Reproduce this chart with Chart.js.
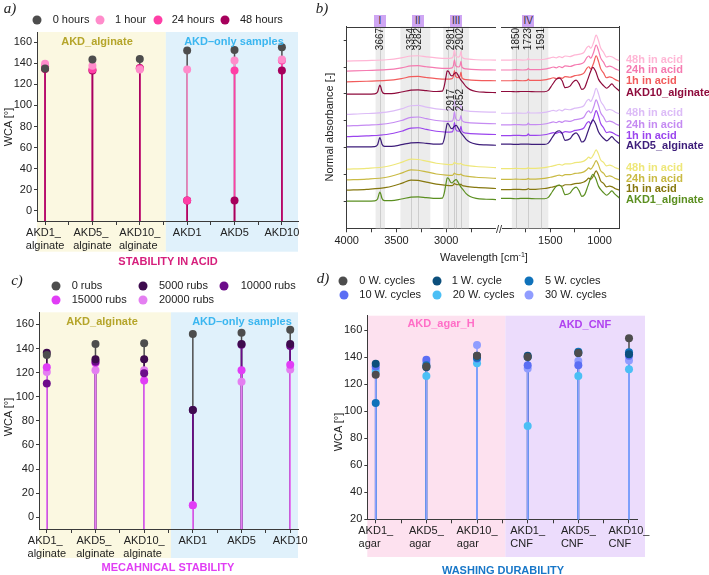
<!DOCTYPE html>
<html>
<head>
<meta charset="utf-8">
<script src="https://cdn.jsdelivr.net/npm/chart.js@4.4.1/dist/chart.umd.min.js"></script>
<style>
  html, body { margin: 0; padding: 0; background: #fff; }
  #page { position: relative; width: 709px; height: 575px; overflow: hidden;
          font-family: "Liberation Sans", Arial, sans-serif; color: #222; }
  #page canvas { position: absolute; }
  .t { position: absolute; white-space: nowrap; font-size: 11px; line-height: 1; }
  .c { transform: translate(-50%, -50%); }
  .rot { transform: translate(-50%, -50%) rotate(-90deg); }
  .b { font-weight: bold; }
  .letter { font-family: "Liberation Serif", "Times New Roman", serif; font-style: italic; font-size: 15px; }
  .dot { position: absolute; width: 9px; height: 9px; border-radius: 50%; transform: translate(-50%, -50%); }
  .box { position: absolute; width: 12px; height: 12px; background: #cfa6f3; font-size: 10px;
         line-height: 12px; text-align: center; transform: translate(-50%, -50%); color: #333; }
</style>
</head>
<body>
<div id="page">
  <canvas id="chartA" width="320" height="260" style="left:0;top:0"></canvas>
  <canvas id="specL" width="240" height="260" style="left:260px;top:0"></canvas>
  <canvas id="specR" width="209" height="260" style="left:500px;top:0"></canvas>
  <canvas id="chartC" width="320" height="295" style="left:0;top:280px"></canvas>
  <canvas id="chartD" width="370" height="295" style="left:300px;top:280px"></canvas>
</div>
<script>
// ---------- data ----------
// a) stability in acid
const acidCats = [['AKD1_ ', 'alginate'], ['AKD5_ ', 'alginate'], ['AKD10_', 'alginate '], 'AKD1', 'AKD5', 'AKD10'];
const acidNames = ['0 hours', '1 hour', '24 hours', '48 hours'];
const acid0h  = [135, 143.5, 144, 152, 152.5, 155];
const acid1h  = [139.5, 137.5, 134, 134, 142.5, 143.5];
const acid24h = [137, 134, 135, 10, 133, 142.5];
const acid48h = [134.5, 133, 135.5, 10, 10, 133];

// c) mechanical stability
const rubNames = ['0 rubs', '5000 rubs', '10000 rubs', '15000 rubs', '20000 rubs'];
const rubs0     = [134.5, 143.7, 144.3, 152, 153, 155.5];
const rubs5000  = [136.5, 131, 131, 89, 143.7, 143.7];
const rubs10000 = [111, 129, 119.5, 89, 143, 142];
const rubs15000 = [124.5, 128, 113.5, 10, 122, 126.5];
const rubs20000 = [120.5, 122, 122, 10, 112.5, 122.5];

// d) washing durability
const washCats = [['AKD1_', 'agar    '], ['AKD5_', 'agar    '], ['AKD10_', 'agar      '],
                  ['AKD1_', 'CNF    '], ['AKD5_', 'CNF    '], ['AKD10_', 'CNF      ']];
const washNames = ['0 W. cycles', '1 W. cycle', '5 W. cycles', '10 W. cycles', '20 W. cycles', '30 W. cycles'];
const wash0  = [127, 133, 141, 140, 143, 154];
const wash1  = [135, 132.5, 141, 141, 143, 142];
const wash5  = [106, 134, 139.5, 140, 144, 143.5];
const wash10 = [133, 138, 139, 134, 134, 141];
const wash20 = [129, 126, 135.5, 89, 126, 131];
const wash30 = [131, 136, 149, 131.5, 137, 137.5];

// b) FTIR spectra (wavenumber / absorbance above each trace's offset)
const algLeftWn  = [4000, 3800, 3720, 3690, 3675, 3667, 3658, 3645, 3620, 3550, 3450, 3354, 3282, 3200, 3100, 3040,
                    3020, 3000, 2990, 2975, 2955, 2940, 2920, 2900, 2880, 2852, 2830, 2800, 2760, 2700, 2600, 2500];
const algLeftAbs = [0, 0, 0.01, 0.08, 0.27, 0.34, 0.27, 0.1, 0.02, 0.02, 0.08, 0.15, 0.16, 0.13, 0.1, 0.11,
                    0.3, 0.7, 0.87, 0.84, 0.7, 0.68, 0.76, 0.8, 0.7, 0.52, 0.42, 0.28, 0.17, 0.1, 0.07, 0.06];
const acidLeftWn    = [4000, 3800, 3600, 3450, 3354, 3282, 3200, 3100, 3000, 2940, 2928, 2917, 2906, 2880, 2862, 2852, 2842, 2800, 2700, 2500];
const acid10LeftAbs = [0, 0.02, 0.05, 0.12, 0.19, 0.2, 0.16, 0.12, 0.1, 0.12, 0.2, 0.42, 0.2, 0.15, 0.2, 0.36, 0.15, 0.08, 0.05, 0.04];
const acid5LeftAbs  = [0, 0.03, 0.08, 0.2, 0.32, 0.33, 0.27, 0.2, 0.17, 0.18, 0.27, 0.52, 0.28, 0.2, 0.24, 0.38, 0.2, 0.13, 0.1, 0.08];
const acid1LeftAbs  = [0, 0.03, 0.1, 0.25, 0.37, 0.36, 0.3, 0.22, 0.18, 0.17, 0.2, 0.25, 0.22, 0.2, 0.2, 0.22, 0.18, 0.14, 0.1, 0.06];
const algRightWn  = [2000, 1900, 1850, 1800, 1723, 1650, 1560, 1520, 1480, 1440, 1407, 1380, 1350, 1300, 1270, 1238,
                     1210, 1180, 1150, 1120, 1090, 1068, 1040, 1010, 977, 950, 926, 900, 875, 850, 800];
const algRightAbs = [0.1, 0.1, 0.09, 0.1, 0.1, 0.09, 0.09, 0.14, 0.35, 0.55, 0.6, 0.5, 0.24, 0.3, 0.45, 0.52,
                     0.4, 0.18, 0.25, 0.55, 0.85, 1.0, 0.85, 0.55, 0.38, 0.28, 0.22, 0.3, 0.38, 0.28, 0.12];
const acidRightWn   = [2000, 1900, 1850, 1780, 1735, 1723, 1710, 1650, 1560, 1500, 1470, 1440, 1410, 1380, 1350, 1300,
                       1250, 1200, 1160, 1130, 1110, 1090, 1060, 1035, 1010, 990, 960, 930, 900, 870, 840, 800];
const acidRightAbs  = [0.04, 0.04, 0.05, 0.04, 0.05, 0.1, 0.05, 0.05, 0.07, 0.12, 0.15, 0.12, 0.17, 0.13, 0.19, 0.17,
                       0.23, 0.26, 0.32, 0.5, 0.56, 0.48, 0.7, 0.97, 0.75, 0.5, 0.33, 0.15, 0.18, 0.15, 0.08, 0.02];
const acid1RightAbs = [0.02, 0.02, 0.03, 0.02, 0.03, 0.06, 0.03, 0.03, 0.06, 0.1, 0.12, 0.15, 0.18, 0.15, 0.2, 0.2,
                       0.24, 0.26, 0.3, 0.38, 0.45, 0.4, 0.55, 0.72, 0.55, 0.35, 0.25, 0.12, 0.15, 0.12, 0.05, 0.01];

const specNames   = ['48h in acid', '24h in acid', '1h in acid', 'AKD10_alginate',
                     '48h in acid', '24h in acid', '1h in acid', 'AKD5_alginate',
                     '48h in acid', '24h in acid', '1h in acid', 'AKD1_alginate'];
const specOffsets = [6.22, 5.85, 5.45, 4.99, 4.24, 3.81, 3.41, 3.03, 2.20, 1.80, 1.42, 1.01];
const specShape   = ['acid10', 'acid10', 'acid10', 'alg', 'acid5', 'acid5', 'acid5', 'alg', 'acid1', 'acid1', 'acid1', 'alg'];
const bandsLeft   = [[3710, 3615], [3460, 3160], [3030, 2770]];
const bandsRight  = [[1890, 1520]];
const peakLinesLeft  = [3667, 3354, 3282, 2981, 2917, 2902, 2852];
const peakLinesRight = [1850, 1723, 1591];
const peakLabelsTop  = [3667, 3354, 3282, 2981, 2902, 1850, 1723, 1591];
const peakLabelsMid  = [2917, 2852];
const regionNames    = ['I', 'II', 'III', 'IV'];
const regionCentres  = [3667, 3285, 2900, 1723];

// ---------- styles ----------
const FONT = '"Liberation Sans", Arial, sans-serif';
Chart.defaults.font.family = FONT;
Chart.defaults.font.size = 11;
Chart.defaults.color = '#222';
const AXIS = '#3a3a3a';
const acidColors = ['#4d4d4d', '#ff8ccb', '#ff3fa6', '#a6005c'];
const rubColors  = ['#4d4d4d', '#3e0b4e', '#6c0c8a', '#e13df6', '#e47ff1'];
const washColors = ['#4d4d4d', '#0c4f7c', '#0f72ba', '#5b6ef4', '#4bbff5', '#909dff'];
const specColors = ['#ffb6d5', '#f57ab0', '#f25c5c', '#8e0b3c',
                    '#dcbcf7', '#c58bf2', '#9b45ee', '#3d1d7a',
                    '#eee779', '#c9ba43', '#86780f', '#5b8f20'];

const page = document.getElementById('page');
function addText(html, x, y, cls, style) {
  const d = document.createElement('div');
  d.className = 't ' + (cls || '');
  d.innerHTML = html;
  d.style.left = x + 'px';
  d.style.top = y + 'px';
  Object.assign(d.style, style || {});
  page.appendChild(d);
  return d;
}
function legend(names, colors, spots) {
  names.forEach((n, i) => {
    const [dx, tx, y] = spots[i];
    const dot = document.createElement('div');
    dot.className = 'dot';
    dot.style.left = dx + 'px';
    dot.style.top = y + 'px';
    dot.style.background = colors[i];
    page.appendChild(dot);
    addText(n, tx, y - 6);
  });
}

// ---------- plugins ----------
function regionsPlugin(list, extra) {
  return {
    id: 'regions',
    beforeDraw(chart) {
      const { ctx, chartArea: a, scales: { x } } = chart;
      ctx.save();
      list.forEach(r => {
        const x0 = x.getPixelForValue(r.from), x1 = x.getPixelForValue(r.to);
        ctx.fillStyle = r.color;
        ctx.fillRect(x0, a.top, x1 - x0, a.bottom - a.top + extra);
      });
      ctx.restore();
    }
  };
}
const dropLines = {
  id: 'dropLines',
  beforeDatasetsDraw(chart) {
    const { ctx, chartArea } = chart;
    ctx.save();
    ctx.lineWidth = 1.5;
    chart.data.datasets.forEach((ds, i) => {
      ctx.strokeStyle = ds.borderColor;
      chart.getDatasetMeta(i).data.forEach(pt => {
        ctx.beginPath();
        ctx.moveTo(pt.x, pt.y);
        ctx.lineTo(pt.x, chartArea.bottom);
        ctx.stroke();
      });
    });
    ctx.restore();
  }
};
function bandsPlugin(bands, lines, frameRight) {
  return {
    id: 'bands',
    beforeDatasetsDraw(chart) {
      const { ctx, chartArea: a, scales: { x } } = chart;
      ctx.save();
      ctx.fillStyle = '#ececec';
      bands.forEach(([w0, w1]) => {
        const p0 = x.getPixelForValue(w0), p1 = x.getPixelForValue(w1);
        ctx.fillRect(p0, a.top, p1 - p0, a.bottom - a.top);
      });
      ctx.strokeStyle = '#cdcdcd';
      ctx.lineWidth = 1;
      lines.forEach(w => {
        const p = Math.round(x.getPixelForValue(w)) + 0.5;
        ctx.beginPath(); ctx.moveTo(p, a.top); ctx.lineTo(p, a.bottom); ctx.stroke();
      });
      ctx.restore();
    },
    afterDraw(chart) {
      const { ctx, chartArea: a } = chart;
      ctx.save();
      ctx.strokeStyle = AXIS;
      ctx.lineWidth = 1;
      ctx.beginPath();
      ctx.moveTo(a.left, Math.round(a.top) + 0.5);
      ctx.lineTo(a.right + (frameRight ? 0.5 : 0), Math.round(a.top) + 0.5);
      ctx.stroke();
      ctx.restore();
    }
  };
}

// ---------- WCA charts ----------
function wcaChart(id, cats, series, colors, cfg) {
  const datasets = series.map((vals, i) => ({
    data: vals.map((v, j) => ({ x: j, y: v })),
    backgroundColor: colors[i],
    borderColor: colors[i],
    pointRadius: 4,
    pointHoverRadius: 4,
    pointBorderWidth: 0,
    showLine: false
  }));
  const xTicks = [];
  for (let k = 0; k <= (cats.length - 1) * 2; k++) xTicks.push(k / 2);
  const yTicks = [];
  for (let v = cfg.yFirst; v <= cfg.yLast; v += 10) yTicks.push(v);
  return new Chart(document.getElementById(id), {
    type: 'scatter',
    data: { datasets },
    options: {
      responsive: false, animation: false, devicePixelRatio: 1,
      layout: { padding: cfg.pad },
      plugins: { legend: { display: false }, tooltip: { enabled: false } },
      scales: {
        x: {
          type: 'linear', min: cfg.xmin, max: cfg.xmax,
          afterBuildTicks: s => { s.ticks = xTicks.map(v => ({ value: v })); },
          afterFit: s => { s.height = cfg.xh; },
          ticks: { autoSkip: false, maxRotation: 0, minRotation: 0, padding: 1, color: '#222',
                   callback: v => Number.isInteger(v) ? cats[v] : '' },
          grid: { drawOnChartArea: false, tickLength: 4, tickColor: AXIS },
          border: { color: AXIS }
        },
        y: {
          min: cfg.ymin, max: cfg.ymax,
          afterBuildTicks: s => { s.ticks = yTicks.map(v => ({ value: v })); },
          afterFit: s => { s.width = cfg.yw; },
          ticks: { padding: 2, color: '#222', callback: v => v % 20 === 0 ? v : '' },
          grid: { drawOnChartArea: false, tickLength: 3, tickColor: AXIS },
          border: { color: AXIS }
        }
      }
    },
    plugins: [regionsPlugin(cfg.regions, cfg.extra), dropLines]
  });
}

wcaChart('chartA', acidCats, [acid0h, acid1h, acid24h, acid48h], acidColors, {
  pad: { top: 32, left: 0, right: 22, bottom: 0 }, yw: 37, xh: 39,
  xmin: -0.17, xmax: 5.34, ymin: -9.5, ymax: 169.5, yFirst: 0, yLast: 160, extra: 30.7,
  regions: [{ from: -0.17, to: 2.55, color: '#fbf8e1' }, { from: 2.55, to: 5.34, color: '#e0f1fb' }]
});
wcaChart('chartC', acidCats, [rubs0, rubs5000, rubs10000, rubs15000, rubs20000], rubColors, {
  pad: { top: 32.3, left: 0, right: 22, bottom: 0 }, yw: 39, xh: 46,
  xmin: -0.16, xmax: 5.16, ymin: -9.7, ymax: 170, yFirst: 0, yLast: 160, extra: 29,
  regions: [{ from: -0.16, to: 2.55, color: '#fbf8e1' }, { from: 2.55, to: 5.16, color: '#e0f1fb' }]
});
wcaChart('chartD', washCats, [wash0, wash1, wash5, wash10, wash20, wash30], washColors, {
  pad: { top: 35.7, left: 0, right: 32.6, bottom: 0 }, yw: 67.3, xh: 55.7,
  xmin: -0.166, xmax: 5.166, ymin: 20, ymax: 170.6, yFirst: 20, yLast: 160, extra: 37.7,
  regions: [{ from: -0.166, to: 2.56, color: '#fde1ef' }, { from: 2.56, to: 5.316, color: '#ecdcfc' }]
});

// ---------- FTIR charts ----------
const shapes = {
  alg:    { lw: algLeftWn,  la: algLeftAbs,    rw: algRightWn,  ra: algRightAbs },
  acid10: { lw: acidLeftWn, la: acid10LeftAbs, rw: acidRightWn, ra: acidRightAbs },
  acid5:  { lw: acidLeftWn, la: acid5LeftAbs,  rw: acidRightWn, ra: acidRightAbs },
  acid1:  { lw: acidLeftWn, la: acid1LeftAbs,  rw: acidRightWn, ra: acid1RightAbs }
};
function specChart(id, left) {
  const datasets = specNames.map((n, i) => {
    const sh = shapes[specShape[i]];
    const wn = left ? sh.lw : sh.rw, ab = left ? sh.la : sh.ra;
    return {
      label: n,
      data: wn.map((w, k) => ({ x: w, y: specOffsets[i] + ab[k] })),
      borderColor: specColors[i], borderWidth: 1.2,
      pointRadius: 0, showLine: true, fill: false,
      cubicInterpolationMode: 'monotone'
    };
  }).reverse();
  const xTicks = left ? [4000, 3750, 3500, 3250, 3000, 2750] : [1750, 1500, 1250, 1000];
  return new Chart(document.getElementById(id), {
    type: 'scatter',
    data: { datasets },
    options: {
      responsive: false, animation: false, devicePixelRatio: 1,
      layout: { padding: left ? { top: 26.7, left: 0, right: 4, bottom: 0 } : { top: 26.7, left: 1, right: 89.7, bottom: 0 } },
      plugins: { legend: { display: false }, tooltip: { enabled: false } },
      scales: {
        x: {
          type: 'linear', reverse: true,
          min: left ? 2500 : 800, max: left ? 4000 : 2000,
          afterBuildTicks: s => { s.ticks = xTicks.map(v => ({ value: v })); },
          afterFit: s => { s.height = 31.7; },
          ticks: { autoSkip: false, maxRotation: 0, padding: 2, color: '#222',
                   callback: v => v % 500 === 0 ? v : '' },
          grid: { drawOnChartArea: false, tickLength: 4, tickColor: AXIS },
          border: { color: AXIS }
        },
        y: {
          position: left ? 'left' : 'right',
          min: 0, max: 7.5,
          afterBuildTicks: s => { s.ticks = left ? [1, 2, 3, 4, 5, 6, 7].map(v => ({ value: v })) : []; },
          afterFit: s => { s.width = left ? 86.7 : 0; },
          ticks: { display: left, callback: () => '' },
          grid: { drawOnChartArea: false, drawTicks: left, tickLength: 3, tickColor: AXIS },
          border: { color: AXIS }
        }
      }
    },
    plugins: [bandsPlugin(left ? bandsLeft : bandsRight, left ? peakLinesLeft : peakLinesRight, !left)]
  });
}
const specL = specChart('specL', true);
const specR = specChart('specR', false);

// ---------- annotations ----------
const xPix = w => w > 2400 ? 260 + specL.scales.x.getPixelForValue(w) : 500 + specR.scales.x.getPixelForValue(w);
const labelShift = { 2981: 3, 2902: 4, 2917: -3, 2852: -1 };
peakLabelsTop.forEach(w => addText(String(w), xPix(w) + (labelShift[w] || 0), 39, 'rot', { fontSize: '10px', color: '#222' }));
peakLabelsMid.forEach(w => addText(String(w), xPix(w) + (labelShift[w] || 0), 100, 'rot', { fontSize: '10px', color: '#222' }));
regionNames.forEach((n, i) => {
  const b = document.createElement('div');
  b.className = 'box';
  b.textContent = n;
  b.style.left = xPix(regionCentres[i]) + 'px';
  b.style.top = '21px';
  page.appendChild(b);
});
specNames.forEach((n, i) => {
  addText(n, 626, specL.scales.y.getPixelForValue(specOffsets[i]) - 7, 'b', { color: specColors[i] });
});
addText('//', 499, 229, 'c', { fontSize: '11px', background: '#fff', color: '#333' });
addText('Normal absorbance [-]', 329, 127, 'rot');
addText('Wavelength [cm<sup style="font-size:7px">-1</sup>]', 484, 257, 'c');

// panel letters
addText('a)', 10, 8, 'c letter');
addText('b)', 322, 8, 'c letter');
addText('c)', 17, 280, 'c letter');
addText('d)', 323, 278, 'c letter');

// axis titles
addText('WCA [°]', 8, 127, 'rot');
addText('WCA [°]', 8, 417, 'rot');
addText('WCA [°]', 338, 432, 'rot');

// region captions
addText('AKD_alginate', 97, 41, 'c b', { color: '#b5a52a' });
addText('AKD–only samples', 234, 41, 'c b', { color: '#3ab6f0' });
addText('AKD_alginate', 102, 321, 'c b', { color: '#b5a52a' });
addText('AKD–only samples', 242, 321, 'c b', { color: '#3ab6f0' });
addText('AKD_agar_H', 441, 323, 'c b', { color: '#ff6ec7' });
addText('AKD_CNF', 585, 324, 'c b', { color: '#b042f0' });

// bottom captions
addText('STABILITY IN ACID', 168, 261, 'c b', { color: '#d61f7c' });
addText('MECAHNICAL STABILITY', 168, 567, 'c b', { color: '#e03ef4' });
addText('WASHING DURABILITY', 503, 570, 'c b', { color: '#1877c8' });

// legends
legend(acidNames, acidColors, [[37, 52.7, 20], [100, 115, 20], [158, 171.7, 20], [225, 240, 20]]);
legend(rubNames, rubColors, [[56, 71.7, 286], [143.3, 159, 286], [224, 240.7, 286], [56, 71.7, 299.5], [143.3, 159, 299.5]]);
legend(washNames, washColors, [[343.3, 359.3, 281], [437.3, 451.7, 281], [529.3, 545, 281],
                               [344.3, 359.3, 295], [436.7, 452.7, 295], [529.3, 545, 295]]);
</script>
</body>
</html>
